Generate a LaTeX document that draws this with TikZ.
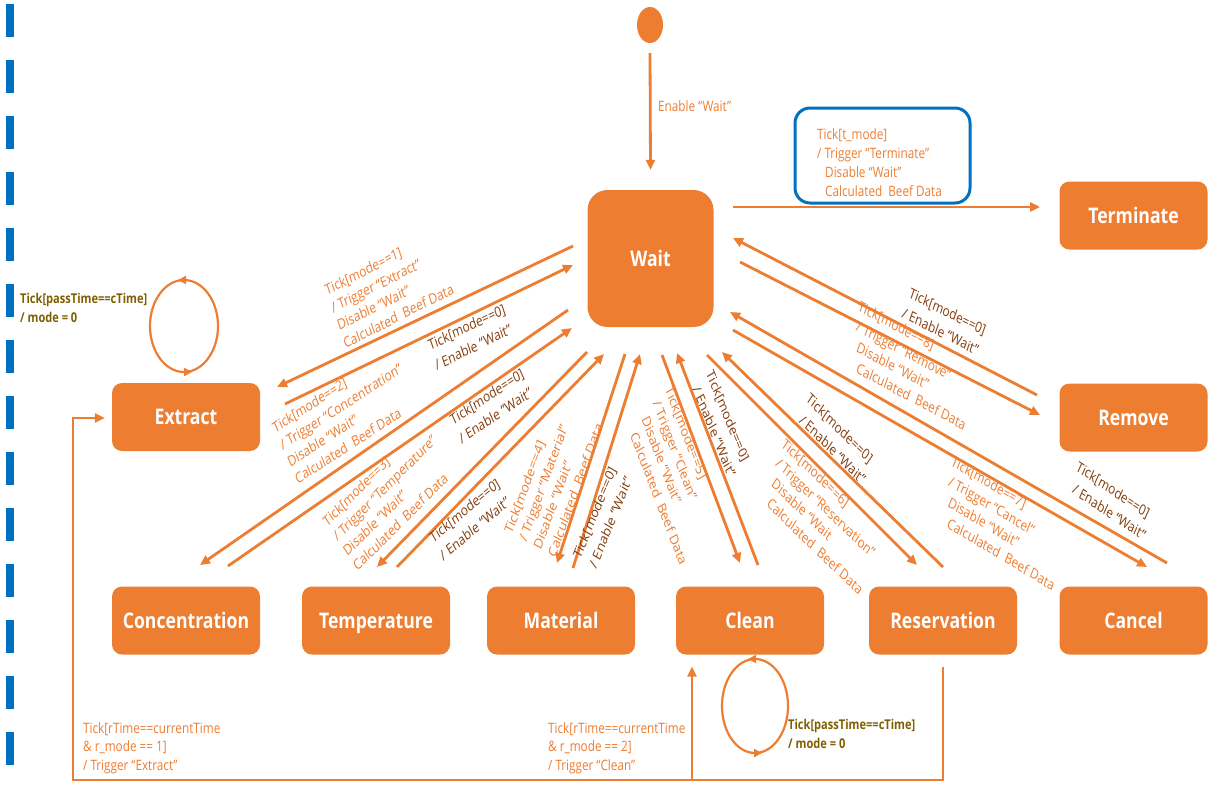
\documentclass[tikz,border=0pt]{standalone}
\usepackage{fontspec}
\setmainfont{Open Sans}
\newfontfamily\hfont[FakeStretch=0.82]{Open Sans}
\usetikzlibrary{arrows.meta,shapes.geometric}
\definecolor{orng}{HTML}{ED7D31}
\definecolor{brwn}{HTML}{843C0C}
\definecolor{olv}{HTML}{7F6000}
\definecolor{blu}{HTML}{0070C0}
\newcommand{\ind}[1]{\hspace*{#1pt}}

\begin{document}
\begin{tikzpicture}[x=1pt,y=-1pt,
    stbox/.style={fill=orng,rounded corners=10pt,minimum width=148pt,minimum height=68pt,
      inner sep=0pt,text depth=0pt,text=white,font=\hfont\bfseries\fontsize{21.5}{26}\selectfont},
    tr/.style={draw=orng,line width=2.8pt,-{Triangle[length=10pt,width=9pt]}},
    lab/.style={text=orng,font=\hfont\fontsize{14.3}{18.5}\selectfont,align=left,inner sep=0pt},
    rlab/.style={lab,anchor=north west,xscale=0.82,font=\normalfont\fontsize{14.5}{19.3}\selectfont},
    rbr/.style={rlab,text=brwn,font=\normalfont\fontsize{14.5}{21.7}\selectfont},
    lol/.style={lab,text=olv,font=\hfont\bfseries\fontsize{13.5}{19}\selectfont},
    loopl/.style={draw=orng,line width=2.2pt},
    looptip/.style={loopl,-{Triangle[length=8pt,width=8pt]}}]
  \useasboundingbox (0,0) rectangle (1228,787);

  \draw[blu,line width=8pt,dash pattern=on 33pt off 23pt] (10,4)--(10,770);%left border

  \node[fill=orng,ellipse,minimum width=26pt,minimum height=36pt,inner sep=0pt](init)at(650,25){};%start
  \node[stbox,minimum width=126pt,minimum height=137pt,rounded corners=20pt](wait)at(650.5,258.5){Wait};
  \node[stbox](term)at(1133.5,215.5){Terminate};
  \node[stbox](remove)at(1133.5,417.5){Remove};
  \node[stbox](extract)at(186,417){Extract};
  \node[stbox](conc)at(186,620.5){Concentration};
  \node[stbox](temp)at(376,620.5){Temperature};
  \node[stbox](mat)at(561,620.5){Material};
  \node[stbox](clean)at(750,620.5){Clean};
  \node[stbox](resv)at(943,620.5){Reservation};
  \node[stbox](cancel)at(1133.5,620.5){Cancel};

  \draw[tr]([shift={(0,10)}]init.south)--([shift={(0,-20)}]wait.north);
  \node[lab,anchor=west](enlab)at(658,106){Enable “Wait”};

  \foreach \s/\a/\b/\c/\d in{extract/-77.5/-12.5/91/-30,conc/-82.5/51.5/14/-55.5,
      temp/-63.5/93.5/1/-53.5,mat/-25.5/95.5/-4/-57.5,clean/11.5/96.5/-10/-57.5,
      resv/56.5/96.5/-26/-55.5,cancel/82.5/71.5/13.5/-53.5,remove/89.5/3.5/-93.5/-2.5,
      term/82.5/-51.5/-93.5/-8.5}
    \draw[tr]([shift={(\a,\b)}]wait.center)--([shift={(\c,\d)}]\s.center);%Wait -> state

  \foreach \s/\a/\b/\c/\d in{extract/99/-13/-77.5/6.5,conc/42/-54.5/-78.5/69.5,
      temp/21/-53.5/-46.5/95.5,mat/12/-52.5/-10.5/95.5,clean/8/-55.5/26.5/94.5,
      resv/0/-53.5/71.5/93.5,cancel/33.5/-57.5/79.5/53.5,remove/-96.5/-22.5/82.5/-20.5}
    \draw[tr]([shift={(\a,\b)}]\s.center)--([shift={(\c,\d)}]wait.center);%state -> Wait

  \node[draw=blu,line width=3pt,rounded corners=15pt,minimum width=175pt,minimum height=95pt](tfrm)at(882.5,155.5){};
  \node[lab,font=\hfont\fontsize{14.3}{19.3}\selectfont,anchor=north west](trTerm)at(817,128)
    {Tick[t\_mode]\\/ Trigger “Terminate”\\\ind{8}Disable “Wait”\\\ind{8}Calculated\ \ Beef Data};

  %left side labels
  \node[rlab,rotate=22.7](trExtract)at(323.5,285){Tick[mode==1]\\/ Trigger “Extract”\\Disable “Wait”\\Calculated\ \ Beef Data};
  \node[rbr,rotate=21.8](bkExtract)at(426.7,340){Tick[mode==0]\\/ Enable “Wait”};
  \node[rlab,rotate=28](trConc)at(271,423.3){Tick[mode==2]\\/ Trigger “Concentration”\\Disable “Wait”\\Calculated\ \ Beef Data};
  \node[rbr,rotate=28.9](bkConc)at(448.6,415.4){Tick[mode==0]\\/ Enable “Wait”};
  \node[rlab,rotate=39.4](trTemp)at(321.3,518.5){Tick[mode==3]\\/ Trigger “Temperature”\\Disable “Wait”\\Calculated\ \ Beef Data};
  \node[rbr,rotate=34.5](bkTemp)at(428,534){Tick[mode==0]\\/ Enable “Wait”};
  \node[rlab,rotate=66.1](trMat)at(503.5,530.5){Tick[mode==4]\\/ Trigger “Material”\\Disable “Wait”\\Calculated\ \ Beef Data};
  \node[rbr,rotate=63.8](bkMat)at(572,555){Tick[mode==0]\\/ Enable “Wait”};
  %right side labels
  \node[rlab,rotate=-64.9](trClean)at(673,385){Tick[mode==5]\\\ind{6}/ Trigger “Clean”\\\ind{15}Disable “Wait”\\\ind{23}Calculated\ \ Beef Data};
  \node[rbr,rotate=-63.8](bkClean)at(714,368.4){Tick[mode==0]\\\ind{7}/ Enable “Wait”};
  \node[rbr,rotate=-39.4](bkResv)at(811,392){Tick[mode==0]\\\ind{7}/ Enable “Wait”};
  \node[rlab,rotate=-38.4](trResv)at(786.3,437.4){Tick[mode==6]\\\ind{6}/ Trigger “Reservation”\\\ind{15}Disable “Wait\\\ind{23}Calculated\ \ Beef Data};
  \node[rlab,rotate=-26.2](trCancel)at(954,455){Tick[mode==7]\\\ind{6}/ Trigger “Cancel”\\\ind{15}Disable “Wait”\\\ind{23}Calculated\ \ Beef Data};
  \node[rbr,rotate=-28.9](bkCancel)at(1079.4,460.4){Tick[mode==0]\\\ind{7}/ Enable “Wait”};
  \node[rbr,rotate=-22.7](bkRemove)at(911.5,286.8){Tick[mode==0]\\/ Enable “Wait”};
  \node[rlab,rotate=-23.6](trRemove)at(860.6,300){Tick[mode==8]\\\ind{6}/ Trigger “Remove”\\\ind{15}Disable “Wait”\\\ind{23}Calculated\ \ Beef Data};

  %self loops
  \coordinate(xloop)at(184,326);
  \draw[loopl](xloop)ellipse[x radius=34,y radius=46];
  \draw[looptip]([shift={(4,-46)}]xloop)--([shift={(-6,-46)}]xloop);
  \draw[looptip]([shift={(-2,46)}]xloop)--([shift={(8,46)}]xloop);
  \node[lol,anchor=west](xlooplab)at(20,307.5){Tick[passTime==cTime]\\/ mode = 0};

  \coordinate(cloop)at(755,706);
  \draw[loopl](cloop)ellipse[x radius=33,y radius=47];
  \draw[looptip]([shift={(3,-47)}]cloop)--([shift={(-7,-47)}]cloop);
  \draw[looptip]([shift={(-3,47)}]cloop)--([shift={(7,47)}]cloop);
  \node[lol,anchor=west](clooplab)at(788,734){Tick[passTime==cTime]\\/ mode = 0};

  %reservation
  \coordinate(rbl)at(73,780);
  \coordinate(cleanin)at([shift={(-58,12)}]clean.south);
  \draw[tr]([shift={(0,12)}]resv.south)|-(rbl)|-([shift={(-7,1)}]extract.west);
  \draw[tr](cleanin|-rbl)--(cleanin);
  \node[lab,anchor=north west](rlabA)at(83,722){Tick[rTime==currentTime\\\&\ r\_mode == 1]\\/ Trigger “Extract”};
  \node[lab,anchor=north west](rlabB)at(548,722){Tick[rTime==currentTime\\\&\ r\_mode == 2]\\/ Trigger “Clean”};
\end{tikzpicture}
\end{document}
